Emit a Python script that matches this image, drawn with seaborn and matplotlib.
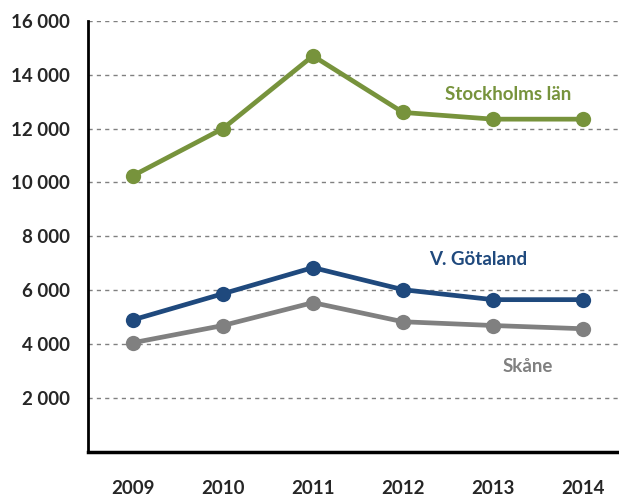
import pandas as pd
import matplotlib.pyplot as plt
import seaborn as sns

# data
years = ["2009", "2010", "2011", "2012", "2013", "2014"]
stockholm = [10250, 12000, 14700, 12600, 12350, 12350]
vgotaland = [4900, 5870, 6840, 6020, 5650, 5650]
skane = [4050, 4690, 5540, 4830, 4690, 4570]
regions = ["Stockholms län", "V. Götaland", "Skåne"]
colors = ["#77933C", "#1F497D", "#808080"]

sns.set_style("white")
plt.rcParams['font.family'] = ['Lato', 'DejaVu Sans']

df = pd.DataFrame({
    "year": years * 3,
    "value": stockholm + vgotaland + skane,
    "region": [r for r in regions for _ in years],
})
df["x"] = df["year"].map({y: i for i, y in enumerate(years)})

fig = plt.figure(figsize=(6.19, 4.96), dpi=100)
ax = fig.add_axes([0.142, 0.089, 0.858, 0.869])

sns.lineplot(data=df, x="x", y="value", hue="region", palette=colors,
             marker="o", markersize=11, markeredgewidth=0, linewidth=3.4,
             legend=False, ax=ax, zorder=3)

ax.set_xlim(-0.5, 5.4)
ax.set_ylim(0, 16000)
ax.set_xticks(range(len(years)))
ax.set_xticklabels(years)
ax.set_yticks(range(2000, 16001, 2000))
ax.set_yticklabels([f"{v:,}".replace(",", " ") for v in range(2000, 16001, 2000)])
ax.yaxis.grid(True, linestyle=(0, (3, 3)), color="#808080", linewidth=1)
ax.set_xlabel("")
ax.set_ylabel("")
ax.tick_params(length=0, labelsize=13.5)
ax.tick_params(axis="x", pad=20)
ax.tick_params(axis="y", pad=13)
for lab in ax.get_xticklabels() + ax.get_yticklabels():
    lab.set_fontweight("bold")

for s in ["top", "right"]:
    ax.spines[s].set_visible(False)
ax.spines["left"].set_linewidth(2)
ax.spines["bottom"].set_linewidth(2.5)
ax.spines["left"].set_color("black")
ax.spines["bottom"].set_color("black")

ax.text(4.17, 13270, "Stockholms län", color=colors[0], fontsize=13.5,
        fontweight="bold", ha="center", va="center")
ax.text(3.83, 7140, "V. Götaland", color=colors[1], fontsize=13.5,
        fontweight="bold", ha="center", va="center")
ax.text(4.39, 3160, "Skåne", color=colors[2], fontsize=13.5,
        fontweight="bold", ha="center", va="center")

fig.savefig("out.png", dpi=100)
